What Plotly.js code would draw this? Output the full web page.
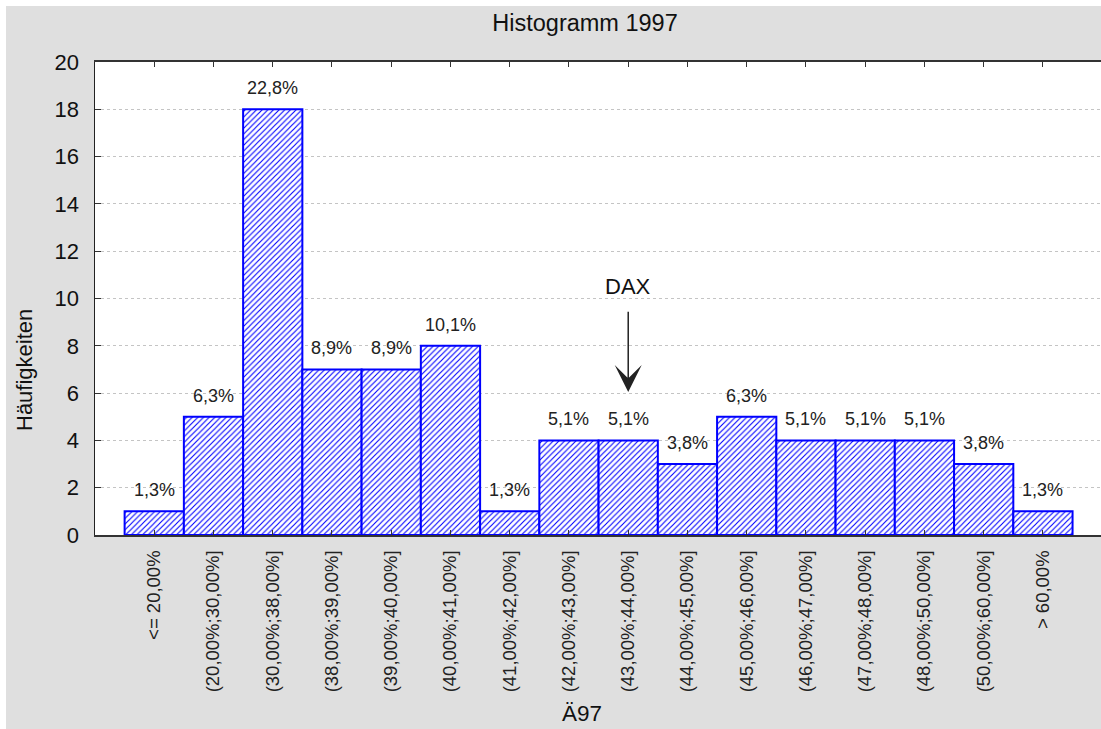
<!DOCTYPE html>
<html>
<head>
<meta charset="utf-8">
<script src="https://cdn.plot.ly/plotly-3.0.1.min.js"></script>
<style>
  body { margin: 0; background: #fff; }
  #graph { width: 1101px; height: 729px; }
</style>
</head>
<body>
<div id="graph"></div>
<script>
// Histogramm 1997 - Ä97 classes
const classes = ['<= 20,00%', '(20,00%;30,00%]', '(30,00%;38,00%]', '(38,00%;39,00%]',
    '(39,00%;40,00%]', '(40,00%;41,00%]', '(41,00%;42,00%]', '(42,00%;43,00%]',
    '(43,00%;44,00%]', '(44,00%;45,00%]', '(45,00%;46,00%]', '(46,00%;47,00%]',
    '(47,00%;48,00%]', '(48,00%;50,00%]', '(50,00%;60,00%]', '> 60,00%']
const counts = [1, 5, 18, 7, 7, 8, 1, 4, 4, 3, 5, 4, 4, 4, 3, 1]
const percents = ['1,3%', '6,3%', '22,8%', '8,9%', '8,9%', '10,1%', '1,3%', '5,1%',
    '5,1%', '3,8%', '6,3%', '5,1%', '5,1%', '5,1%', '3,8%', '1,3%']
const yTicks = [0, 2, 4, 6, 8, 10, 12, 14, 16, 18, 20]
const daxClass = '(43,00%;44,00%]'

const font = 'Liberation Sans, Arial, sans-serif'
const xs = classes.map((c, i) => i)

let labels = percents.map((p, i) => ({
    x: i, y: counts[i], text: p, showarrow: false,
    yanchor: 'bottom', yshift: 9,
    font: { family: font, size: 18, color: '#222' }
}))

let daxIdx = classes.indexOf(daxClass)
labels.push({
    x: daxIdx, y: 6.05, axref: 'x', ayref: 'y', ax: daxIdx, ay: 10.5,
    text: 'DAX', showarrow: true, arrowhead: 3, arrowsize: 3, arrowwidth: 1.5,
    arrowcolor: '#222', startstandoff: 11,
    font: { family: font, size: 22, color: '#111' }
})
labels.push({
    xref: 'paper', yref: 'paper', x: (582 - 95) / 1006, y: -(713 - 535) / 473,
    text: 'Ä97', showarrow: false, xanchor: 'center', yanchor: 'middle',
    font: { family: font, size: 22.5, color: '#111' }
})
labels.push({
    xref: 'paper', yref: 'paper', x: (24 - 95) / 1006, y: (535 - 370) / 473,
    text: 'Häufigkeiten', textangle: -90, showarrow: false, xanchor: 'center', yanchor: 'middle',
    font: { family: font, size: 22, color: '#111' }
})

Plotly.newPlot('graph', [{
    x: xs, y: counts, type: 'bar',
    marker: {
        color: '#ffffff',
        line: { color: '#0000ff', width: 2 },
        pattern: { shape: '/', fgcolor: '#0000ff', bgcolor: '#ffffff', size: 4, solidity: 0.28 }
    },
    hoverinfo: 'none'
}], {
    width: 1101, height: 729,
    paper_bgcolor: '#dfdfdf', plot_bgcolor: '#ffffff',
    margin: { l: 95, r: 0, t: 62, b: 194 },
    bargap: 0, showlegend: false,
    title: {
        text: 'Histogramm 1997', x: 585 / 1101, xanchor: 'center',
        y: 1 - 23 / 729, yanchor: 'middle',
        font: { family: font, size: 23.5, color: '#111' }
    },
    xaxis: {
        range: [-1, 15.98], tickmode: 'array', tickvals: xs, ticktext: classes,
        tickangle: -90, ticks: 'inside', ticklen: 5, tickcolor: '#333',
        showline: true, linecolor: '#333', linewidth: 2, mirror: 'ticks',
        showgrid: false, zeroline: false, ticklabelstandoff: 6,
        tickfont: { family: font, size: 18.5, color: '#222' }
    },
    yaxis: {
        range: [0, 20], tickvals: yTicks, ticks: 'inside', ticklen: 6, tickcolor: '#333',
        showline: true, linecolor: '#222', linewidth: 1.5,
        showgrid: true, gridcolor: '#c4c4c4', griddash: 'dot', gridwidth: 1,
        zeroline: false, ticklabelstandoff: 10,
        tickfont: { family: font, size: 22, color: '#111' }
    },
    shapes: [
        { type: 'rect', xref: 'paper', yref: 'paper', x0: -0.2, x1: 1.2,
          y0: (535 - 6) / 473, y1: 1.3, fillcolor: '#ffffff', line: { width: 0 }, layer: 'below' },
        { type: 'rect', xref: 'paper', yref: 'paper', x0: -0.2, x1: (6 - 95) / 1006,
          y0: -0.5, y1: 1.3, fillcolor: '#ffffff', line: { width: 0 }, layer: 'below' }
    ],
    annotations: labels
}, { staticPlot: true })
</script>
</body>
</html>
